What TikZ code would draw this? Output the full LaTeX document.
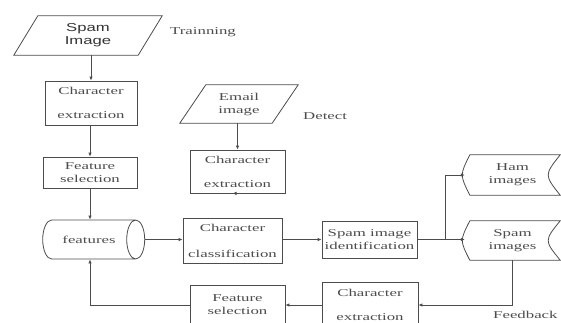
\documentclass[tikz,border=0pt]{standalone}
\usepackage{fontspec}
\setmainfont{Liberation Serif}[FakeStretch=1.6]
\newfontfamily\sansstretch{Liberation Sans}[FakeStretch=1.45]
\usetikzlibrary{shapes.geometric,arrows.meta}
\begin{document}
\begin{tikzpicture}[x=1pt,y=-1pt,
  ln/.style={draw=black!70, line width=0.8pt},
  arr/.style={ln, -{Latex[length=4pt,width=3.5pt]}},
  txt/.style={text=black!70, align=center, inner sep=0pt, font=\fontsize{10.5}{13}\selectfont},
  box/.style={txt, ln, rectangle},
  plain/.style={txt, draw=none},
  lbl/.style={text=black!70, inner sep=0pt, font=\fontsize{10.5}{13}\selectfont}
]
\useasboundingbox (0,0) rectangle (561,322);
\clip (0,0) rectangle (561,322);

% Spam Image (parallelogram)
\node[plain, minimum width=148pt, minimum height=39pt, font=\sansstretch\fontsize{11.5}{13}\selectfont, text=black!80] (si) at (88,35.5) {Spam\\Image};
\draw[ln] ([xshift=24pt]si.north west) -- (si.north east) -- ([xshift=-24pt]si.south east) -- (si.south west) -- cycle;
\node[lbl, anchor=west] (train) at (170,32) {Trainning};

\node[box, minimum width=92pt, minimum height=44pt] (ce1) at (91,103) {Character\\[11pt]extraction};
\node[box, minimum width=94pt, minimum height=31pt] (fs1) at (90,172.5) {Feature\\selection};
\node[txt, ln, cylinder, aspect=2.4, minimum width=39pt, minimum height=102pt] (feat) at (89,239.5) {\raisebox{-7pt}{features}};

% Email image
\node[plain, minimum width=118pt, minimum height=38pt] (ei) at (239,104) {Email\\image};
\draw[ln] ([xshift=26pt]ei.north west) -- (ei.north east) -- ([xshift=-26pt]ei.south east) -- (ei.south west) -- cycle;
\node[lbl, anchor=west] (detect) at (303,116) {Detect};

\node[box, minimum width=95pt, minimum height=43pt] (ce2) at (237.5,171.5) {Character\\[11pt]extraction};
\node[box, minimum width=99pt, minimum height=45pt] (cc) at (232.5,240.5) {Character\\[13pt]classification};
\node[box, minimum width=95pt, minimum height=37pt] (sid) at (369.5,239.5) {Spam image\\identification};

% stored data shapes
\node[plain, minimum width=95pt, minimum height=40pt] (ham) at (512.5,175) {Ham\\images};
\draw[ln] ([xshift=5pt]ham.north west) -- (ham.north east) .. controls ([xshift=-16pt]ham.east) .. (ham.south east) -- ([xshift=5pt]ham.south west) .. controls ([xshift=-5pt]ham.west) .. cycle;
\node[plain, minimum width=95pt, minimum height=39pt] (spam) at (512.5,240.5) {Spam\\images};
\draw[ln] ([xshift=5pt]spam.north west) -- (spam.north east) .. controls ([xshift=-16pt]spam.east) .. (spam.south east) -- ([xshift=5pt]spam.south west) .. controls ([xshift=-5pt]spam.west) .. cycle;

\node[box, minimum width=96pt, minimum height=46pt] (ce3) at (370,305) {Character\\[11pt]extraction};
\node[box, minimum width=95pt, minimum height=40pt] (fs2) at (237.5,305) {Feature\\selection};
\node[lbl, anchor=west] (fb) at (493,315) {Feedback};

% connectors
\draw[arr] (si.south -| ce1.north) -- (ce1.north);
\draw[arr] (ce1.south -| fs1.north) -- (fs1.north);
\draw[arr] (fs1.south) -- (fs1.south |- feat.north);
\draw[arr] (feat.east) -- (cc.west |- feat.east);
\draw[arr] (ei.south -| ce2.north) -- (ce2.north);
\draw[arr] (ce2.south) -- (ce2.south -| cc.north);
\draw[arr] (cc.east |- sid.west) -- (sid.west);
\coordinate (split) at (445,239.5);
\draw[ln] (sid.east) -- (split);
\draw[arr] (split) |- (ham.west);
\draw[arr] (split) -- (spam.west |- split);
\draw[arr] (spam.south) |- (ce3.east);
\draw[arr] (ce3.west) -- (fs2.east |- ce3.west);
\draw[arr] (fs2.west) -| (fs1.south |- feat.south);
\end{tikzpicture}
\end{document}
